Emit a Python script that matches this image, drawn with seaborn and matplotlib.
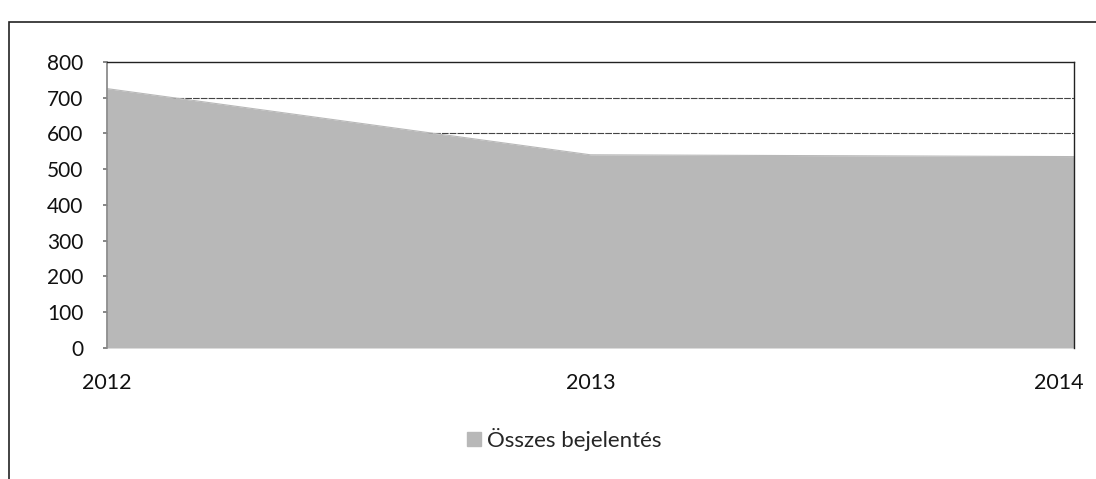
import matplotlib
matplotlib.use("Agg")
import matplotlib.pyplot as plt
import matplotlib.transforms as mtransforms
import seaborn as sns
import pandas as pd
from matplotlib.patches import Rectangle

years = [2012, 2013, 2014]
osszes = [725, 540, 535]
series_name = "Összes bejelentés"
yticks = [0, 100, 200, 300, 400, 500, 600, 700, 800]

sns.set_theme(style="white")
plt.rcParams['font.family'] = ['Lato', 'DejaVu Sans']

df = pd.DataFrame({"year": years, "value": osszes})

fig = plt.figure(figsize=(10.96, 4.79), dpi=100)
ax = fig.add_axes([0.0976, 0.2735, 0.8824, 0.5975])

fill_color = "#b8b8b8"
for y in yticks[1:-1]:
    ax.axhline(y, color="#444444", lw=0.8, ls=(0, (6, 1)), zorder=0)
ax.fill_between(df["year"], 0, df["value"], color=fill_color, lw=0, zorder=1)
sns.lineplot(data=df, x="year", y="value", ax=ax, color=fill_color, lw=0.8, zorder=2)

ax.set_xlim(2012, 2014)
ax.set_ylim(0, 800)
ax.set_yticks(yticks)
ax.set_xticks(years)
ax.set_xticklabels([str(y) for y in years], fontsize=15.5, color="#111111")
ax.set_yticklabels([str(y) for y in yticks], fontsize=15, color="#111111")
ax.tick_params(axis="x", pad=18, length=0)
ax.tick_params(axis="y", pad=14, length=3, left=True, color="#777777")
last = ax.get_xticklabels()[-1]
last.set_horizontalalignment("right")
last.set_transform(last.get_transform() + mtransforms.ScaledTranslation(10 / 100, 0, fig.dpi_scale_trans))
ax.set_xlabel("")
ax.set_ylabel("")
for s in ["top", "right"]:
    ax.spines[s].set_visible(True)
    ax.spines[s].set_color("#222222")
    ax.spines[s].set_linewidth(1.0)
ax.spines["left"].set_color("#888888")
ax.spines["bottom"].set_visible(False)

# legend
handle = Rectangle((0, 0), 1, 1, color=fill_color)
fig.legend([handle], [series_name], loc="center", bbox_to_anchor=(0.515, 0.082),
           frameon=False, fontsize=16, handlelength=0.6, handleheight=0.6,
           handletextpad=0.3)

# outer chart frame
fig.patches.append(Rectangle((0.008, -0.05), 1.2, 1.004, transform=fig.transFigure,
                             fill=False, edgecolor="#222222", lw=1.2))

fig.savefig("out.png", dpi=100)
